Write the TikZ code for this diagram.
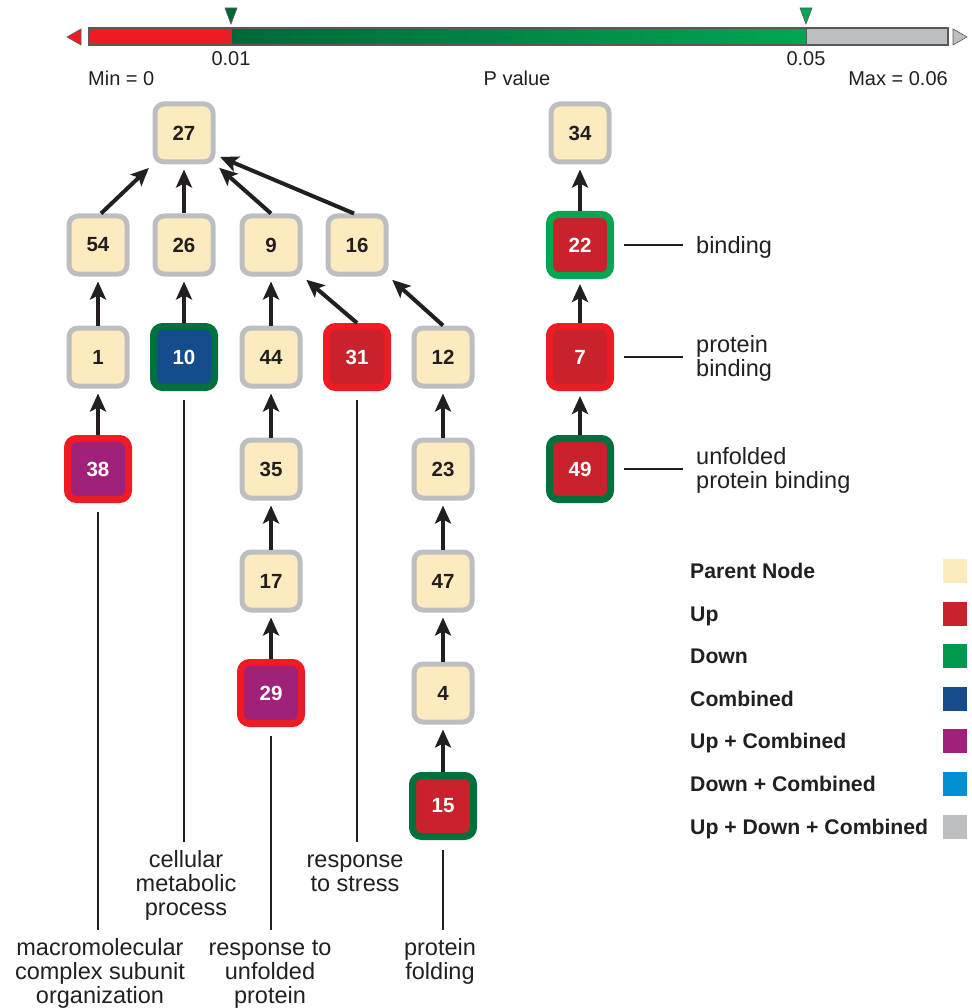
\documentclass[tikz,border=0pt]{standalone}
\usepackage{fontspec}
\setmainfont{Liberation Sans}
\usetikzlibrary{arrows.meta,calc}
\definecolor{parentc}{HTML}{FDEBC0}
\definecolor{grayb}{HTML}{BCBEC0}
\definecolor{upc}{HTML}{C8232C}
\definecolor{redb}{HTML}{ED1C24}
\definecolor{downc}{HTML}{009A4E}
\definecolor{greenb}{HTML}{00A651}
\definecolor{dgreenb}{HTML}{00703C}
\definecolor{combc}{HTML}{154C8C}
\definecolor{upcombc}{HTML}{A0217A}
\definecolor{downcombc}{HTML}{0090D4}
\definecolor{txt}{HTML}{231F20}
\definecolor{bardark}{HTML}{006838}
\definecolor{barlight}{HTML}{00A651}
\definecolor{edgec}{HTML}{58595B}
\begin{document}
\begin{tikzpicture}[x=1pt,y=-1pt,
  box/.style={rectangle, rounded corners=9pt, font=\fontsize{20.5}{22}\selectfont\bfseries, inner sep=0pt},
  pnode/.style={box, fill=parentc, draw=grayb, line width=5pt, minimum size=58pt, text=txt},
  cnode/.style={box, line width=7pt, minimum size=61pt, text=white},
  arr/.style={line width=4pt, draw=txt, -{Stealth[length=18pt,width=16pt,inset=4pt]}, shorten >=5pt},
  lbl/.style={line width=2.5pt, draw=txt},
  ltext/.style={font=\fontsize{23.5}{24}\selectfont, text=txt, align=center, inner sep=0pt, anchor=base},
  rtext/.style={font=\fontsize{23.5}{24}\selectfont, text=txt, align=left, inner sep=0pt, anchor=base west},
  bartext/.style={font=\fontsize{20}{22}\selectfont, text=txt, inner sep=0pt},
  legtext/.style={font=\fontsize{21.2}{22}\selectfont\bfseries, text=txt, inner sep=0pt, anchor=base west},
  swatch/.style={rectangle, minimum size=25pt, inner sep=0pt, draw=white, line width=0.8pt}
]
\useasboundingbox (0,0) rectangle (971,1008);

% ---------- colour bar ----------
\fill[redb] (89,28) rectangle (231,45);
\shade[left color=bardark, right color=barlight] (231,28) rectangle (806,45);
\fill[grayb] (806,28) rectangle (948,45);
\draw[edgec, line width=1.2pt] (89,28) rectangle (948,45);
\draw[edgec, line width=1pt] (231,28) -- (231,45) (806,28) -- (806,45);
\filldraw[fill=bardark, draw=edgec, line width=0.6pt] (225,8) -- (237,8) -- (231,24) -- cycle;
\filldraw[fill=barlight, draw=edgec, line width=0.6pt] (800,8) -- (812,8) -- (806,24) -- cycle;
\filldraw[fill=redb, draw=edgec, line width=0.6pt] (81,29) -- (81,45) -- (67,37) -- cycle;
\filldraw[fill=grayb, draw=edgec, line width=0.6pt] (953,29) -- (953,45) -- (967,37) -- cycle;
\node[bartext, anchor=base] (t001) at (231,66) {0.01};
\node[bartext, anchor=base] (t005) at (806,66) {0.05};
\node[bartext, anchor=base west] (tmin) at (88,86) {Min = 0};
\node[bartext, anchor=base] (tp) at (517,86) {P value};
\node[bartext, anchor=base east] (tmax) at (948,86) {Max = 0.06};

% ---------- nodes ----------
\node[pnode] (n27) at (184,133) {27};
\node[pnode] (n34) at (580,133) {34};
\node[pnode] (n54) at (98,245) {54};
\node[pnode] (n26) at (184,245) {26};
\node[pnode] (n9) at (271,245) {9};
\node[pnode] (n16) at (357,245) {16};
\node[cnode, fill=upc, draw=greenb] (n22) at (580,245) {22};
\node[pnode] (n1) at (98,357) {1};
\node[cnode, fill=combc, draw=dgreenb] (n10) at (184,357) {10};
\node[pnode] (n44) at (271,357) {44};
\node[cnode, fill=upc, draw=redb] (n31) at (357,357) {31};
\node[pnode] (n12) at (443,357) {12};
\node[cnode, fill=upc, draw=redb] (n7) at (580,357) {7};
\node[cnode, fill=upcombc, draw=redb] (n38) at (98,469) {38};
\node[pnode] (n35) at (271,469) {35};
\node[pnode] (n23) at (443,469) {23};
\node[cnode, fill=upc, draw=dgreenb] (n49) at (580,469) {49};
\node[pnode] (n17) at (271,581) {17};
\node[pnode] (n47) at (443,581) {47};
\node[cnode, fill=upcombc, draw=redb] (n29) at (271,693) {29};
\node[pnode] (n4) at (443,693) {4};
\node[cnode, fill=upc, draw=dgreenb] (n15) at (443,806) {15};

% ---------- arrows ----------
\draw[arr] ([xshift=3pt]n54.north) -- (n27.south west);
\draw[arr] (n26.north) -- (n27.south);
\draw[arr] (n9.north) -- (n27.south east);
\draw[arr] ([xshift=-3pt]n16.north) -- ($(n27.south east)!0.3!(n27.east)$);
\draw[arr] (n1.north) -- (n54.south);
\draw[arr] (n10.north) -- (n26.south);
\draw[arr] (n44.north) -- (n9.south);
\draw[arr] (n31.north) -- (n9.south east);
\draw[arr] (n12.north) -- (n16.south east);
\draw[arr] (n38.north) -- (n1.south);
\draw[arr] (n35.north) -- (n44.south);
\draw[arr] (n17.north) -- (n35.south);
\draw[arr] (n29.north) -- (n17.south);
\draw[arr] (n23.north) -- (n12.south);
\draw[arr] (n47.north) -- (n23.south);
\draw[arr] (n4.north) -- (n47.south);
\draw[arr] (n15.north) -- (n4.south);
\draw[arr] (n22.north) -- (n34.south);
\draw[arr] (n7.north) -- (n22.south);
\draw[arr] (n49.north) -- (n7.south);

% ---------- label lines and texts ----------
\coordinate (e38) at (98,930);
\coordinate (e10) at (184,842);
\coordinate (e29) at (271,930);
\coordinate (e31) at (357,842);
\coordinate (e15) at (443,930);
\draw[lbl] ([yshift=-9pt]n38.south) -- (e38);
\draw[lbl] ([yshift=-9pt]n10.south) -- (e10);
\draw[lbl] ([yshift=-9pt]n29.south) -- (e29);
\draw[lbl] ([yshift=-9pt]n31.south) -- (e31);
\draw[lbl] ([yshift=-10pt]n15.south) -- (e15);
\node[ltext] (l38) at (100,1003) {macromolecular\\complex subunit\\organization};
\node[ltext] (l10) at (186,915) {cellular\\metabolic\\process};
\node[ltext] (l29) at (270,1003) {response to\\unfolded\\protein};
\node[ltext] (l31) at (355,891) {response\\to stress};
\node[ltext] (l15) at (440,979) {protein\\folding};

\coordinate (h22) at (683,245);
\coordinate (h7) at (683,357);
\coordinate (h49) at (683,469);
\draw[lbl] ([xshift=10pt]n22.east) -- (h22);
\draw[lbl] ([xshift=10pt]n7.east) -- (h7);
\draw[lbl] ([xshift=10pt]n49.east) -- (h49);
\node[rtext] (l22) at (696,253) {binding};
\node[rtext] (l7) at (696,376) {protein\\binding};
\node[rtext] (l49) at (696,488) {unfolded\\protein binding};

% ---------- legend ----------
\node[legtext] (g1) at (690,578) {Parent Node};
\node[legtext] (g2) at (690,621) {Up};
\node[legtext] (g3) at (690,663) {Down};
\node[legtext] (g4) at (690,706) {Combined};
\node[legtext] (g5) at (690,748) {Up + Combined};
\node[legtext] (g6) at (690,791) {Down + Combined};
\node[legtext] (g7) at (690,834) {Up + Down + Combined};
\node[swatch, fill=parentc] (s1) at (955,571) {};
\node[swatch, fill=upc] (s2) at (955,614) {};
\node[swatch, fill=downc] (s3) at (955,656) {};
\node[swatch, fill=combc] (s4) at (955,699) {};
\node[swatch, fill=upcombc] (s5) at (955,741) {};
\node[swatch, fill=downcombc] (s6) at (955,784) {};
\node[swatch, fill=grayb] (s7) at (955,827) {};
\end{tikzpicture}
\end{document}
